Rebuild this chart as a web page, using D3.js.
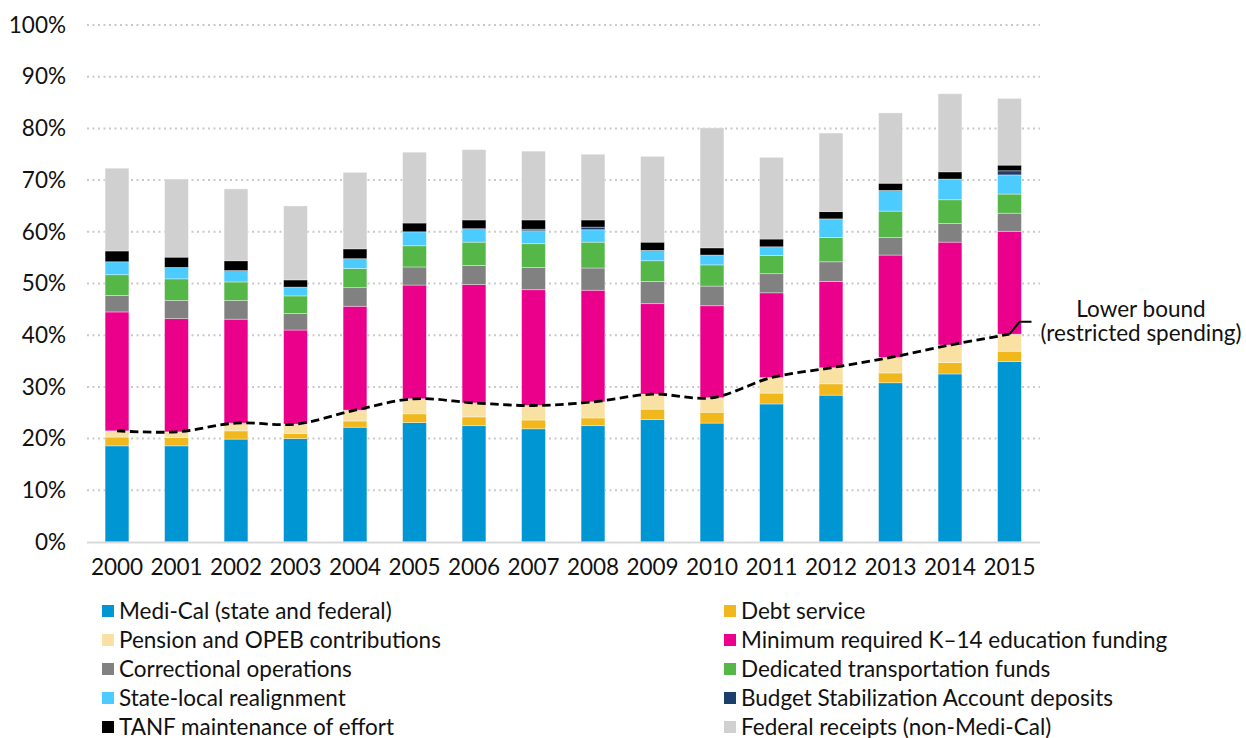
<!DOCTYPE html>
<html>
<head>
<meta charset="utf-8">
<script src="https://cdn.jsdelivr.net/npm/d3@7"></script>
<style>
body{margin:0;background:#fff;}
svg{display:block;font-family:Lato,"Noto Sans",sans-serif;}
</style>
</head>
<body>
<svg id="chart" width="1246" height="738"></svg>
<script>
// shares of the general fund, in percent
var years=["2000","2001","2002","2003","2004","2005","2006","2007","2008","2009","2010","2011","2012","2013","2014","2015"]

var mediCal=[18.6,18.6,19.9,20.0,22.2,23.1,22.5,21.9,22.5,23.7,23.0,26.7,28.4,30.8,32.5,34.9]
var debtService=[1.7,1.6,1.6,1.0,1.2,1.7,1.7,1.7,1.5,2.0,2.1,2.1,2.2,1.9,2.2,2.0]
var pension=[1.2,1.1,1.5,1.8,2.1,2.9,2.7,2.8,3.1,2.9,2.8,3.0,3.1,3.0,3.4,3.3]
var k14=[23.0,21.9,20.1,18.2,20.1,22.0,22.9,22.4,21.6,17.5,17.8,16.4,16.7,19.8,19.9,19.9]
var corrections=[3.2,3.5,3.6,3.2,3.6,3.5,3.7,4.3,4.3,4.3,3.8,3.7,3.8,3.4,3.6,3.5]
var transportation=[4.0,4.2,3.6,3.4,3.7,4.1,4.5,4.6,5.0,4.0,4.1,3.5,4.7,5.1,4.6,3.7]
var realignment=[2.5,2.2,2.2,1.7,1.9,2.7,2.6,2.5,2.4,2.0,1.9,1.7,3.6,4.0,4.0,3.7]
var bsaDeposits=[0,0,0,0,0,0,0,0.3,0.5,0,0,0,0,0,0,0.8]
var tanf=[2.1,2.0,1.9,1.4,1.9,1.7,1.7,1.8,1.4,1.6,1.4,1.5,1.4,1.4,1.4,1.1]
var federal=[16.0,15.1,13.9,14.3,14.8,13.7,13.6,13.3,12.7,16.6,23.2,15.8,15.2,13.6,15.1,12.9]

var yTicks=[0,10,20,30,40,50,60,70,80,90,100]

var seriesNames=["Medi-Cal (state and federal)","Debt service","Pension and OPEB contributions",
	"Minimum required K\u201314 education funding","Correctional operations","Dedicated transportation funds",
	"State-local realignment","Budget Stabilization Account deposits","TANF maintenance of effort",
	"Federal receipts (non-Medi-Cal)"]
var seriesValues=[mediCal,debtService,pension,k14,corrections,transportation,realignment,bsaDeposits,tanf,federal]
var colors=["#0095d3","#f1b81d","#f8e1a3","#eb008b","#818181","#54b748","#4ccbff","#1b3e6d","#000000","#d0d0d0"]

var annotation=["Lower bound","(restricted spending)"]

var fontSize=22.5

var svg=d3.select("#chart")

var rows=years.map((y,i)=>{
	var r={year:y}
	seriesNames.forEach((s,j)=>{r[s]=seriesValues[j][i]})
	return r
})

var xScale=d3.scaleBand()
.domain(years)
.range([87.25,1039.25])
.paddingInner(0.6)
.paddingOuter(0.3)

var yScale=d3.scaleLinear()
.domain([0,100])
.range([542,25])

// gridlines
svg.append("g")
.selectAll("line")
.data(yTicks.filter(d=>d>0))
.enter()
.append("line")
.attr("x1",87)
.attr("x2",1040)
.attr("y1",d=>yScale(d))
.attr("y2",d=>yScale(d))
.attr("stroke","#c9c9c9")
.attr("stroke-width",2)
.attr("stroke-dasharray","2,3.5")

// y axis labels
var yAxis=d3.axisLeft(yScale)
.tickValues(yTicks)
.tickFormat(d=>d+"%")
.tickSize(0)
.tickPadding(0)

svg.append("g")
.attr("transform","translate(66,0)")
.call(yAxis)
.call(g=>g.select(".domain").remove())
.selectAll("text")
.attr("font-size",fontSize)
.attr("font-family","Lato")
.attr("fill","#111")

var stack=d3.stack().keys(seriesNames)(rows)

svg.append("g")
.selectAll(".series")
.data(stack)
.enter()
.append("g")
.classed("series",true)
.attr("fill",(d,i)=>colors[i])
.selectAll("rect")
.data(d=>d)
.enter()
.append("rect")
.attr("x",d=>xScale(d.data.year))
.attr("width",xScale.bandwidth())
.attr("y",d=>yScale(d[1]))
.attr("height",d=>yScale(d[0])-yScale(d[1]))
.attr("stroke","rgba(255,255,255,0.45)")
.attr("stroke-width",d=>d[1]>d[0]?0.8:0)

// baseline
svg.append("line")
.attr("x1",87)
.attr("x2",1040)
.attr("y1",yScale(0)+0.5)
.attr("y2",yScale(0)+0.5)
.attr("stroke","#d9d9d9")
.attr("stroke-width",2)

// x axis labels
var xAxis=d3.axisBottom(xScale)
.tickSize(0)
.tickPadding(0)

svg.append("g")
.attr("transform","translate(0,559)")
.call(xAxis)
.call(g=>g.select(".domain").remove())
.selectAll("text")
.attr("font-size",fontSize)
.attr("font-family","Lato")
.attr("fill","#111")

// lower bound line (Medi-Cal + debt + pension)
var lowerBound=rows.map(r=>({year:r.year,value:r[seriesNames[0]]+r[seriesNames[1]]+r[seriesNames[2]]}))
var cx=d=>xScale(d.year)+xScale.bandwidth()/2

var line=d3.line()
.x(cx)
.y(d=>yScale(d.value))
.curve(d3.curveCatmullRom.alpha(0.5))

svg.append("path")
.datum(lowerBound)
.attr("d",line)
.attr("fill","none")
.attr("stroke","#000")
.attr("stroke-width",2.8)
.attr("stroke-dasharray","8.5,4.5")

// leader to annotation
var last=lowerBound[lowerBound.length-1]
var lx=cx(last), ly=yScale(last.value), ay=yScale(42.6)
svg.append("path")
.attr("d",`M${lx},${ly}L${lx+10},${ay}L${lx+22},${ay}`)
.attr("fill","none")
.attr("stroke","#000")
.attr("stroke-width",2)

svg.append("g")
.selectAll("text")
.data(annotation)
.enter()
.append("text")
.attr("x",1141)
.attr("y",(d,i)=>317+i*24)
.attr("text-anchor","middle")
.attr("font-size",fontSize)
.attr("font-family","Lato")
.attr("fill","#111")
.text(d=>d)

// legend, two columns filled row by row
var legend=svg.append("g")
.selectAll(".legendItem")
.data(seriesNames)
.enter()
.append("g")
.classed("legendItem",true)
.attr("transform",(d,i)=>`translate(${i%2===0?102:724},${611+Math.floor(i/2)*29})`)

legend.append("rect")
.attr("x",0)
.attr("y",-6)
.attr("width",12)
.attr("height",12)
.attr("fill",(d,i)=>colors[i])

legend.append("text")
.attr("x",17)
.attr("y",0)
.attr("dy","0.35em")
.attr("font-size",fontSize)
.attr("font-family","Lato")
.attr("fill","#111")
.text(d=>d)
</script>
</body>
</html>
